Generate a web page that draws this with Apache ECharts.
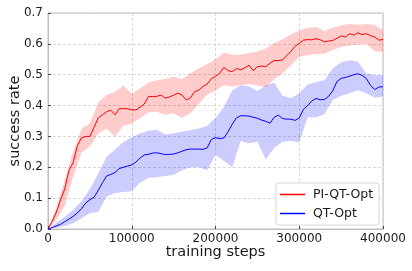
<!DOCTYPE html>
<html>
<head>
<meta charset="utf-8">
<script src="https://cdn.jsdelivr.net/npm/echarts@6/dist/echarts.min.js"></script>
<style>html,body{margin:0;padding:0;background:#fff}#c{width:412px;height:271px}</style>
</head>
<body>
<div id="c"></div>
<script>
// line x positions (every 5000 steps)
const lineSteps = [];
for (let i = 0; i <= 80; i++) lineSteps.push(i * 5000);
// band x positions (every 10000 steps)
const bandSteps = [];
for (let i = 0; i <= 40; i++) bandSteps.push(i * 10000);

const piMean = [0,0.025,0.055,0.095,0.13,0.19,0.215,0.27,0.295,0.30,0.30,0.33,0.36,0.37,0.38,0.385,0.37,0.39,0.39,0.39,
0.386,0.386,0.395,0.405,0.43,0.429,0.43,0.434,0.424,0.428,0.434,0.44,0.434,0.418,0.425,0.445,0.45,0.462,0.47,0.487,
0.495,0.505,0.524,0.513,0.51,0.52,0.516,0.522,0.531,0.513,0.526,0.528,0.526,0.537,0.546,0.546,0.548,0.562,0.576,0.592,
0.602,0.612,0.614,0.613,0.617,0.613,0.607,0.609,0.611,0.618,0.626,0.622,0.633,0.628,0.636,0.63,0.633,0.627,0.622,0.612,0.614];
const qtMean = [0,0.005,0.01,0.015,0.024,0.032,0.041,0.052,0.066,0.084,0.095,0.103,0.125,0.15,0.172,0.177,0.183,0.196,0.2,0.204,
0.208,0.217,0.23,0.24,0.242,0.246,0.247,0.244,0.241,0.242,0.243,0.247,0.252,0.257,0.259,0.259,0.259,0.258,0.263,0.29,
0.296,0.293,0.295,0.315,0.34,0.36,0.367,0.367,0.366,0.362,0.359,0.353,0.349,0.343,0.362,0.369,0.358,0.356,0.356,0.352,
0.36,0.388,0.4,0.415,0.423,0.419,0.42,0.43,0.448,0.478,0.488,0.491,0.495,0.5,0.503,0.498,0.488,0.466,0.452,0.46,0.461];

const piUpper = [0,0.07,0.16,0.25,0.325,0.343,0.41,0.435,0.445,0.465,0.438,0.455,0.475,0.482,0.486,0.493,0.485,0.505,0.52,0.535,
0.55,0.572,0.565,0.565,0.57,0.575,0.585,0.603,0.615,0.63,0.643,0.652,0.655,0.642,0.652,0.66,0.664,0.662,0.664,0.662,0.644];
const piLower = [0,0.03,0.075,0.17,0.248,0.267,0.31,0.325,0.30,0.335,0.342,0.36,0.378,0.38,0.37,0.375,0.36,0.375,0.405,0.435,
0.45,0.466,0.462,0.466,0.47,0.465,0.46,0.485,0.505,0.53,0.558,0.563,0.567,0.568,0.58,0.59,0.595,0.598,0.6,0.576,0.574];
const qtUpper = [0,0.02,0.04,0.062,0.09,0.13,0.18,0.235,0.258,0.282,0.297,0.31,0.318,0.322,0.306,0.31,0.315,0.32,0.326,0.335,
0.36,0.395,0.45,0.466,0.463,0.447,0.465,0.475,0.432,0.424,0.44,0.468,0.476,0.482,0.52,0.54,0.547,0.543,0.505,0.499,0.499];
const qtLower = [0,0.004,0.01,0.019,0.035,0.052,0.055,0.105,0.117,0.12,0.122,0.15,0.166,0.168,0.172,0.176,0.19,0.2,0.2,0.19,
0.24,0.22,0.2,0.285,0.278,0.283,0.225,0.262,0.283,0.285,0.28,0.362,0.362,0.372,0.418,0.432,0.44,0.45,0.44,0.425,0.429];

const xTicks = [0,100000,200000,300000,400000];
const yTicks = [0,0.1,0.2,0.3,0.4,0.5,0.6,0.7];

const pairs = (xs, ys) => xs.map((x, i) => [x, ys[i]]);

function bandSeries(name, lower, upper, color) {
  return {
    name: name, type: 'custom', silent: true, z: 1,
    data: bandSteps.map((x, i) => [x, lower[i], upper[i]]),
    encode: {x: 0, y: [1, 2]},
    renderItem: function (params, api) {
      if (params.dataIndex !== 0) return null;
      const pts = [];
      for (let i = 0; i < bandSteps.length; i++) pts.push(api.coord([bandSteps[i], upper[i]]));
      for (let i = bandSteps.length - 1; i >= 0; i--) pts.push(api.coord([bandSteps[i], lower[i]]));
      return {type: 'polygon', shape: {points: pts}, style: {fill: color, stroke: null}};
    }
  };
}

const font = '"DejaVu Sans", sans-serif';
const chart = echarts.init(document.getElementById('c'), null, {renderer: 'canvas'});
chart.setOption({
  animation: false,
  backgroundColor: '#fff',
  grid: {left: 48, right: 29, top: 13, bottom: 42, containLabel: false, outerBoundsMode: 'none',
    show: true, borderColor: '#bdbdbd', borderWidth: 1},
  legend: {
    data: ['PI-QT-Opt', 'QT-Opt'],
    orient: 'vertical',
    left: 276, top: 183,
    padding: [5, 6, 5, 4],
    itemGap: 6,
    itemWidth: 25, itemHeight: 1.5,
    icon: 'rect',
    backgroundColor: '#fff',
    borderColor: '#d6d6d6', borderWidth: 1, borderRadius: 3,
    textStyle: {fontFamily: font, fontSize: 12.5, color: '#1a1a1a', padding: [0, 0, 0, 3]}
  },
  xAxis: {
    type: 'value', min: 0, max: 400000, interval: 100000,
    name: 'training steps', nameLocation: 'middle', nameGap: 16, nameMoveOverlap: false,
    nameTextStyle: {fontFamily: font, fontSize: 14.5, color: '#1a1a1a', verticalAlign: 'top'},
    axisLine: {show: true, lineStyle: {color: '#bdbdbd'}},
    axisTick: {show: true, inside: true, length: 3, lineStyle: {color: '#444'}},
    axisLabel: {fontFamily: font, fontSize: 12, color: '#1a1a1a', margin: 4,
      formatter: v => xTicks.includes(v) ? String(v) : ''},
    splitLine: {show: true, lineStyle: {color: '#cfcfcf', type: [3, 2], width: 0.8}}
  },
  yAxis: {
    type: 'value', min: 0, max: 0.7, interval: 0.1,
    name: 'success rate', nameLocation: 'middle', nameGap: 25, nameMoveOverlap: false,
    nameTextStyle: {fontFamily: font, fontSize: 14.5, color: '#1a1a1a'},
    axisLine: {show: true, lineStyle: {color: '#bdbdbd'}},
    axisTick: {show: true, inside: true, length: 3, lineStyle: {color: '#444'}},
    axisLabel: {fontFamily: font, fontSize: 12, color: '#1a1a1a', margin: 5,
      formatter: v => yTicks.some(t => Math.abs(t - v) < 1e-9) ? v.toFixed(1) : ''},
    splitLine: {show: true, lineStyle: {color: '#cfcfcf', type: [3, 2], width: 0.8}}
  },
  series: [
    bandSeries('piBand', piLower, piUpper, 'rgba(255,0,0,0.2)'),
    bandSeries('qtBand', qtLower, qtUpper, 'rgba(0,0,255,0.2)'),
    {name: 'PI-QT-Opt', type: 'line', symbol: 'none', color: '#ff0000',
      lineStyle: {color: '#ff0000', width: 1}, data: pairs(lineSteps, piMean), z: 3},
    {name: 'QT-Opt', type: 'line', symbol: 'none', color: '#0000ff',
      lineStyle: {color: '#0000ff', width: 1}, data: pairs(lineSteps, qtMean), z: 3}
  ]
});
</script>
</body>
</html>
